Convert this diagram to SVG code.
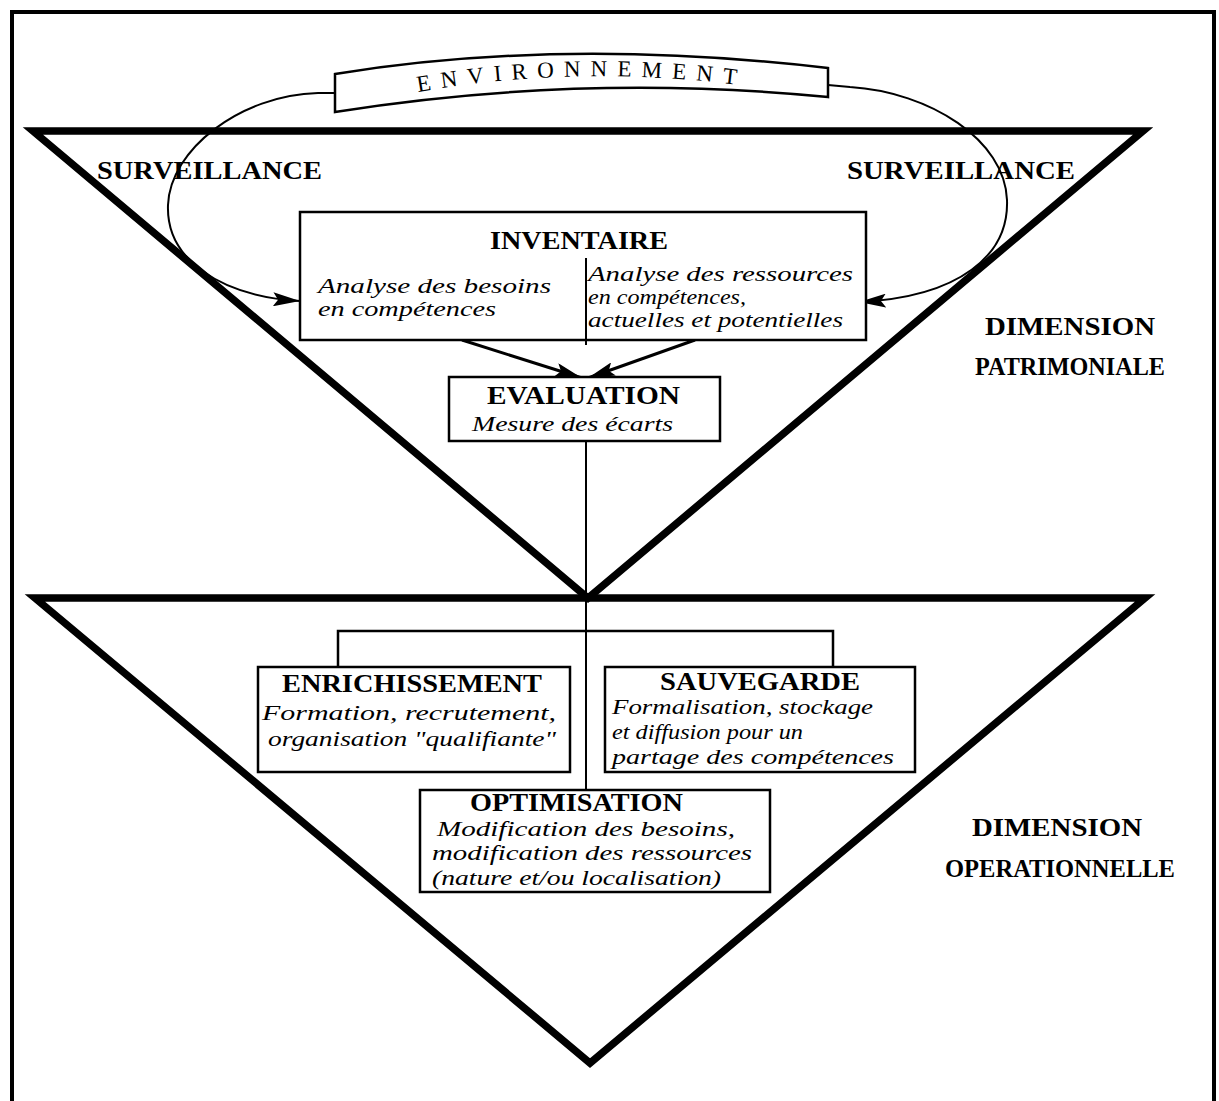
<svg xmlns="http://www.w3.org/2000/svg" width="1219" height="1101" viewBox="0 0 1219 1101">
  <style>
    .frame { fill: none; stroke: #000; stroke-width: 4; }
    .tri { fill: none; stroke: #000; stroke-width: 7.5; stroke-linejoin: miter; }
    .box { fill: #fff; stroke: #000; stroke-width: 2.5; }
    .line { fill: none; stroke: #000; stroke-width: 2; }
    .flow { fill: none; stroke: #000; stroke-width: 3; }
    .title { font-family: "Liberation Serif", "Times New Roman", serif; font-weight: bold; font-size: 25px; fill: #000; }
    .sub { font-family: "Liberation Serif", "Times New Roman", serif; font-style: italic; font-size: 22px; fill: #000; }
    .env { font-family: "Liberation Serif", "Times New Roman", serif; font-size: 23px; letter-spacing: 10px; fill: #000; }
  </style>
  <defs>
    <marker id="arrow" markerUnits="userSpaceOnUse" markerWidth="28" markerHeight="14" refX="27" refY="7" orient="auto">
      <path d="M0,0 L27,7 L0,14 L5,7 Z" fill="#000"/>
    </marker>
    <path id="envArc" d="M418,92 Q585,62 770,89"/>
  </defs>

  <rect width="1219" height="1101" fill="#fff"/>

  <!-- outer frame, open at the bottom -->
  <path class="frame" d="M12,1105 L12,12 L1214,12 L1214,1105"/>

  <!-- two funnels -->
  <path class="tri" d="M33,131 L1143,131 L588,598 Z"/>
  <path class="tri" d="M35,598 L1145,598 L590,1063 Z"/>

  <g id="connectors">
    <!-- surveillance loop from the environment to the inventory -->
    <path class="line" d="M335,93 L318,93 C240,95 170,150 168,205 C166,258 218,296 300,301" marker-end="url(#arrow)"/>
    <path class="line" d="M828,85 L850,87 C930,92 1005,140 1007,200 C1009,255 960,297 859,302" marker-end="url(#arrow)"/>
    <!-- inventory to evaluation -->
    <path class="flow" d="M462,340 L582,378" marker-end="url(#arrow)"/>
    <path class="flow" d="M695,340 L588,378" marker-end="url(#arrow)"/>
    <!-- central axis -->
    <path class="line" d="M586,441 L586,790"/>
    <!-- bracket to the two lower boxes -->
    <path class="flow" d="M338,667 L338,631 L833,631 L833,667" style="stroke-width:2.5"/>
  </g>

  <g id="environnement">
    <path d="M335,74 Q560,37 828,68 L828,97 Q580,73 335,112 Z" fill="#fff" stroke="#000" stroke-width="2.5"/>
    <text class="env"><textPath href="#envArc">ENVIRONNEMENT</textPath></text>
  </g>

  <g id="surveillance-left">
    <text class="title" x="97" y="179" textLength="225" lengthAdjust="spacingAndGlyphs">SURVEILLANCE</text>
  </g>
  <g id="surveillance-right">
    <text class="title" x="847" y="179" textLength="228" lengthAdjust="spacingAndGlyphs">SURVEILLANCE</text>
  </g>

  <g id="inventaire">
    <rect class="box" x="300" y="212" width="566" height="128"/>
    <path class="line" d="M586,258 L586,345"/>
    <text class="title" x="490" y="249" textLength="178" lengthAdjust="spacingAndGlyphs">INVENTAIRE</text>
    <text class="sub" x="318" y="293" textLength="233" lengthAdjust="spacingAndGlyphs">Analyse des besoins</text>
    <text class="sub" x="318" y="316" textLength="178" lengthAdjust="spacingAndGlyphs">en compétences</text>
    <text class="sub" x="588" y="281" textLength="265" lengthAdjust="spacingAndGlyphs">Analyse des ressources</text>
    <text class="sub" x="588" y="304" textLength="158" lengthAdjust="spacingAndGlyphs">en compétences,</text>
    <text class="sub" x="588" y="327" textLength="255" lengthAdjust="spacingAndGlyphs">actuelles et potentielles</text>
  </g>

  <g id="evaluation">
    <rect class="box" x="449" y="377" width="271" height="64"/>
    <text class="title" x="487" y="404" textLength="193" lengthAdjust="spacingAndGlyphs">EVALUATION</text>
    <text class="sub" x="472" y="431" textLength="201" lengthAdjust="spacingAndGlyphs">Mesure des écarts</text>
  </g>

  <g id="dimension-patrimoniale">
    <text class="title" x="985" y="335" textLength="170" lengthAdjust="spacingAndGlyphs">DIMENSION</text>
    <text class="title" x="975" y="375" textLength="190" lengthAdjust="spacingAndGlyphs">PATRIMONIALE</text>
  </g>

  <g id="enrichissement">
    <rect class="box" x="258" y="667" width="312" height="105"/>
    <text class="title" x="282" y="692" textLength="260" lengthAdjust="spacingAndGlyphs">ENRICHISSEMENT</text>
    <text class="sub" x="262" y="720" textLength="294" lengthAdjust="spacingAndGlyphs">Formation, recrutement,</text>
    <text class="sub" x="268" y="746" textLength="288" lengthAdjust="spacingAndGlyphs">organisation "qualifiante"</text>
  </g>

  <g id="sauvegarde">
    <rect class="box" x="605" y="667" width="310" height="105"/>
    <text class="title" x="660" y="690" textLength="200" lengthAdjust="spacingAndGlyphs">SAUVEGARDE</text>
    <text class="sub" x="612" y="714" textLength="261" lengthAdjust="spacingAndGlyphs">Formalisation, stockage</text>
    <text class="sub" x="612" y="739" textLength="191" lengthAdjust="spacingAndGlyphs">et diffusion pour un</text>
    <text class="sub" x="612" y="764" textLength="282" lengthAdjust="spacingAndGlyphs">partage des compétences</text>
  </g>

  <g id="optimisation">
    <rect class="box" x="420" y="790" width="350" height="102"/>
    <text class="title" x="470" y="811" textLength="213" lengthAdjust="spacingAndGlyphs">OPTIMISATION</text>
    <text class="sub" x="437" y="836" textLength="298" lengthAdjust="spacingAndGlyphs">Modification des besoins,</text>
    <text class="sub" x="432" y="860" textLength="320" lengthAdjust="spacingAndGlyphs">modification des ressources</text>
    <text class="sub" x="432" y="885" textLength="289" lengthAdjust="spacingAndGlyphs">(nature et/ou localisation)</text>
  </g>

  <g id="dimension-operationnelle">
    <text class="title" x="972" y="836" textLength="170" lengthAdjust="spacingAndGlyphs">DIMENSION</text>
    <text class="title" x="945" y="877" textLength="230" lengthAdjust="spacingAndGlyphs">OPERATIONNELLE</text>
  </g>
</svg>
